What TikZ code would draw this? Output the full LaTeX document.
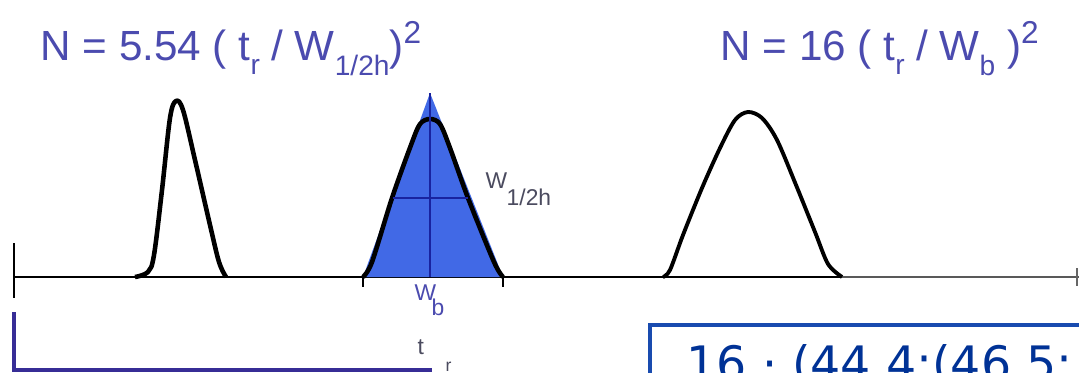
\documentclass[tikz,border=0pt]{standalone}
\usepackage{fontspec}
\setmainfont{Liberation Sans}
\newfontfamily\boxfont{DejaVu Sans}
\definecolor{formulaink}{RGB}{75,75,175}
\definecolor{labelgray}{RGB}{75,75,95}
\definecolor{peakfill}{RGB}{65,105,230}
\definecolor{peakline}{RGB}{25,35,160}
\definecolor{axisblue}{RGB}{55,45,150}
\definecolor{boxline}{RGB}{25,75,175}
\definecolor{boxink}{RGB}{0,50,150}

\newcommand\lowtxt[2][4pt]{\raisebox{-#1}{\fontsize{8}{8}\selectfont #2}}
\newcommand\hightxt[1]{\raisebox{4.8pt}{\fontsize{9}{9}\selectfont #1}}

\begin{document}
\begin{tikzpicture}[
  x=0.1mm, y=-0.1mm,
  trace/.style={draw=black, line width=1.3pt, line join=round},
  base/.style={draw=black, line width=0.8pt},
  marker/.style={draw=peakline, line width=0.8pt},
  formula/.style={font=\fontsize{12}{12}\selectfont, text=formulaink, inner sep=0pt, anchor=base west},
  lab/.style={font=\fontsize{6.5}{6.5}\selectfont, inner sep=0pt, anchor=base west},
]

  \path[use as bounding box, fill=white] (0,0) rectangle (1079,372);

  % --- Formulas ---
  \node[formula] (nhalf) at (40,60)
    {N = 5.54 ( t\lowtxt{r} / W\lowtxt[4.3pt]{1/2h})\hightxt{2}};
  \node[formula] (nbase) at (720,60)
    {N = 16 ( t\lowtxt{r} / W\lowtxt[4.3pt]{b} )\hightxt{2}};

  % --- Baseline ---
  \draw[base] (14,277) -- (840,277);
  \draw[base, black!65] (840,277) -- (1079,277);
  \draw[base] (14,243) -- (14,298);
  \draw[base, black!60] (1077,268) -- (1077,286);

  % --- Peak 1 (narrow) ---
  \draw[trace] plot[smooth, tension=0.55] coordinates {
    (135,277) (148,272) (154,255) (162,190) (170,118) (176,101)
    (183,110) (195,160) (210,225) (219,262) (226,277) };

  % --- Peak 2 (triangle construction) ---
  \fill[peakfill] (363,277) -- (430,93) -- (503,277) -- cycle;
  \draw[trace] plot[smooth, tension=0.5] coordinates {
    (363,277) (372,262) (392,198) (411,145) (420,124) (430,119)
    (440,124) (450,148) (468,198) (494,262) (503,277) };
  \draw[marker] (430,93) -- (430,277);
  \draw[marker] (393,198) -- (468,198);
  \draw[base, line width=0.6pt] (363,277) -- (363,287);
  \draw[base, line width=0.6pt] (503,277) -- (503,287);

  \node[lab, text=labelgray] (whalf) at (485,188) {W};
  \node[lab, text=labelgray] (whalfsub) at (506,205) {1/2h};
  \node[lab, text=formulaink] (wb) at (414,300) {W};
  \node[lab, text=formulaink] (wbsub) at (431,315) {b};

  % --- Peak 3 (wide) ---
  \draw[trace, line width=1.1pt] plot[smooth, tension=0.5] coordinates {
    (663,277) (670,270) (683,235) (702,188) (720,148) (735,120)
    (748,112) (762,118) (777,140) (796,185) (815,232) (828,264) (842,277) };

  % --- Retention time axis ---
  \draw[axisblue, line width=1pt] (14,312) -- (14,370) -- (432,370);
  \node[lab, text=labelgray] (tr) at (417,354) {t};
  \node[lab, text=labelgray, font=\fontsize{5}{5}\selectfont] (trsub) at (445,371) {r};

  % --- Worked example box (cut off) ---
  \begin{scope}
    \clip (0,0) rectangle (1079,372);
    \draw[boxline, line width=1pt] (650,325) rectangle (1120,420);
    \node[anchor=base west, inner sep=0pt, text=boxink,
          font=\boxfont\fontsize{13.5}{13.5}\selectfont] (calc) at (686,380)
      {16 · (44.4:(46.5:};
  \end{scope}

\end{tikzpicture}
\end{document}
